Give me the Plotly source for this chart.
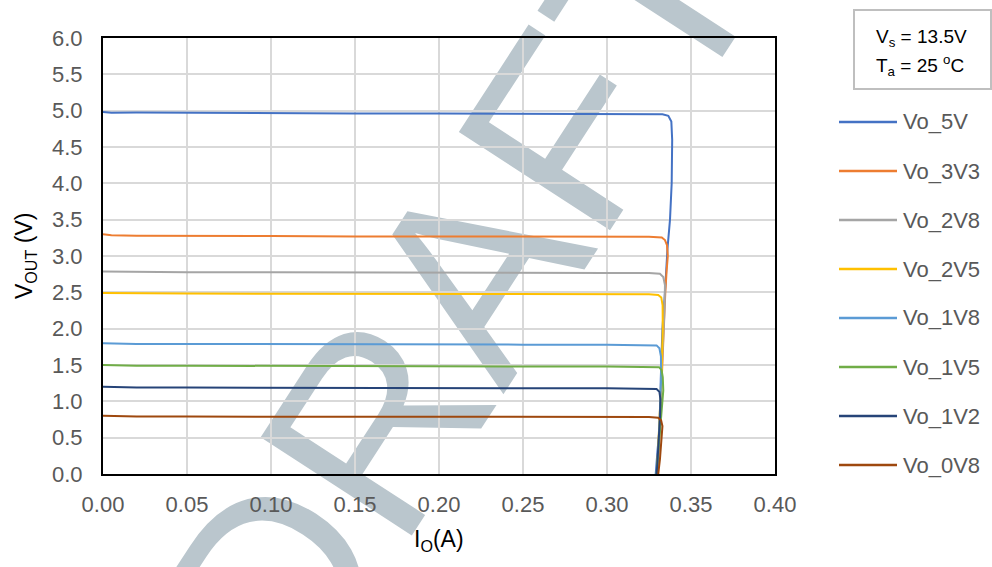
import plotly.graph_objects as go

# ---------------- data ----------------
names = ["Vo_5V", "Vo_3V3", "Vo_2V8", "Vo_2V5", "Vo_1V8", "Vo_1V5", "Vo_1V2", "Vo_0V8"]
colors = ["#4472C4", "#ED7D31", "#A5A5A5", "#FFC000", "#5B9BD5", "#70AD47", "#264478", "#9E480E"]

I_5V = [0, 0.005, 0.02, 0.05, 0.10, 0.15, 0.20, 0.25, 0.30, 0.325, 0.333, 0.3365, 0.3383, 0.3388, 0.3385,
        0.3375, 0.336, 0.3345, 0.333, 0.332, 0.3315, 0.330, 0.329]
V_5V = [4.98, 4.97, 4.975, 4.97, 4.965, 4.96, 4.96, 4.96, 4.955, 4.955, 4.95, 4.93, 4.85, 4.6, 4.0,
        3.5, 3.1, 2.5, 2.0, 1.3, 0.7, 0.3, 0.0]

I_3V3 = [0, 0.005, 0.02, 0.05, 0.10, 0.15, 0.20, 0.25, 0.30, 0.325, 0.3326, 0.3345, 0.3357, 0.3362,
         0.3355, 0.3347, 0.3331, 0.332, 0.331, 0.3302]
V_3V3 = [3.30, 3.285, 3.28, 3.275, 3.275, 3.27, 3.27, 3.27, 3.27, 3.265, 3.255, 3.22, 3.15, 3.0,
         2.8, 2.5, 1.6, 1.0, 0.5, 0.0]

I_2V8 = [0, 0.02, 0.05, 0.10, 0.15, 0.20, 0.25, 0.30, 0.325, 0.3315, 0.3335, 0.3345, 0.3343, 0.333,
         0.332, 0.331, 0.3298]
V_2V8 = [2.785, 2.78, 2.775, 2.775, 2.77, 2.77, 2.77, 2.765, 2.765, 2.755, 2.71, 2.6, 2.3, 1.6,
         1.0, 0.5, 0.0]

I_2V5 = [0, 0.02, 0.05, 0.10, 0.15, 0.20, 0.25, 0.30, 0.325, 0.3305, 0.3323, 0.3331, 0.3332, 0.3325,
         0.3315, 0.3305, 0.3298]
V_2V5 = [2.49, 2.485, 2.485, 2.48, 2.48, 2.48, 2.48, 2.475, 2.475, 2.465, 2.43, 2.32, 2.0, 1.4,
         0.8, 0.3, 0.0]

I_1V8 = [0, 0.02, 0.05, 0.10, 0.15, 0.20, 0.25, 0.30, 0.322, 0.3295, 0.3312, 0.3321, 0.3322, 0.3315,
         0.3308, 0.3298]
V_1V8 = [1.80, 1.79, 1.79, 1.785, 1.785, 1.785, 1.78, 1.78, 1.78, 1.77, 1.73, 1.62, 1.3, 0.8,
         0.4, 0.0]

I_1V5 = [0, 0.02, 0.05, 0.10, 0.15, 0.20, 0.25, 0.30, 0.325, 0.331, 0.3325, 0.3332, 0.3335, 0.3325,
         0.3315, 0.3305, 0.3295]
V_1V5 = [1.50, 1.49, 1.49, 1.485, 1.485, 1.485, 1.48, 1.48, 1.48, 1.47, 1.43, 1.33, 1.15, 0.9,
         0.6, 0.3, 0.0]

I_1V2 = [0, 0.02, 0.05, 0.10, 0.15, 0.20, 0.25, 0.30, 0.322, 0.3295, 0.3312, 0.3318, 0.3316, 0.331,
         0.3302, 0.3296]
V_1V2 = [1.20, 1.19, 1.19, 1.185, 1.185, 1.185, 1.18, 1.18, 1.18, 1.17, 1.13, 1.03, 0.8, 0.5,
         0.2, 0.0]

I_0V8 = [0, 0.02, 0.05, 0.10, 0.15, 0.20, 0.25, 0.30, 0.325, 0.3304, 0.3322, 0.333, 0.3325, 0.3315,
         0.3305]
V_0V8 = [0.80, 0.79, 0.79, 0.79, 0.785, 0.785, 0.785, 0.785, 0.785, 0.775, 0.74, 0.66, 0.45, 0.2,
         0.0]

currents = [I_5V, I_3V3, I_2V8, I_2V5, I_1V8, I_1V5, I_1V2, I_0V8]
voltages = [V_5V, V_3V3, V_2V8, V_2V5, V_1V8, V_1V5, V_1V2, V_0V8]

x_ticks = [0, 0.05, 0.10, 0.15, 0.20, 0.25, 0.30, 0.35, 0.40]
y_ticks = [0, 0.5, 1.0, 1.5, 2.0, 2.5, 3.0, 3.5, 4.0, 4.5, 5.0, 5.5, 6.0]

FONT = "Liberation Sans, Arial, sans-serif"
W, H = 992, 567
ML, MR, MT, MB = 103, 217, 38, 93
PW, PH = W - ML - MR, H - MT - MB


def px2paper_x(px):
    return (px - ML) / PW


def px2paper_y(py):
    return (H - MB - py) / PH


fig = go.Figure()
for n, c, xs, ys in zip(names, colors, currents, voltages):
    fig.add_trace(go.Scatter(x=xs, y=ys, mode="lines", name=n,
                             line=dict(color=c, width=2), showlegend=False))

shapes = []
annotations = []

# Watermark "DRAFT" (between gridlines and traces)
shapes.append(dict(type="rect", xref="paper", yref="paper",
                   x0=px2paper_x(434), x1=px2paper_x(442), y0=px2paper_y(287), y1=px2paper_y(279),
                   line=dict(width=0), fillcolor="rgba(0,0,0,0)", layer="between",
                   label=dict(text="DRAFT", textangle=-57, textposition="middle center",
                              font=dict(size=262, color="#bac6cd", family=FONT))))

# Manual legend
for i, (n, c) in enumerate(zip(names, colors)):
    yy = px2paper_y(122 + 49 * i)
    shapes.append(dict(type="line", xref="paper", yref="paper",
                       x0=px2paper_x(839), x1=px2paper_x(897), y0=yy, y1=yy,
                       line=dict(color=c, width=2.5)))
    annotations.append(dict(text=n, xref="paper", yref="paper", x=px2paper_x(901), y=yy,
                            xanchor="left", yanchor="middle", showarrow=False,
                            font=dict(size=22, color="#595959", family=FONT)))

# Condition box
shapes.append(dict(type="rect", xref="paper", yref="paper",
                   x0=px2paper_x(854), x1=px2paper_x(991), y0=px2paper_y(89), y1=px2paper_y(10),
                   line=dict(color="#bfbfbf", width=2), fillcolor="white"))
annotations.append(dict(text="V<sub>s</sub> = 13.5V", xref="paper", yref="paper",
                        x=px2paper_x(874), y=px2paper_y(38), xanchor="left", yanchor="middle",
                        showarrow=False, font=dict(size=19, color="#000000", family=FONT)))
annotations.append(dict(text="T<sub>a</sub> = 25 <sup>o</sup>C", xref="paper", yref="paper",
                        x=px2paper_x(874), y=px2paper_y(66), xanchor="left", yanchor="middle",
                        showarrow=False, font=dict(size=19, color="#000000", family=FONT)))

# Axis titles
annotations.append(dict(text="V<sub>OUT</sub> (V)", xref="paper", yref="paper",
                        x=px2paper_x(25), y=0.5, textangle=-90, xanchor="center", yanchor="middle",
                        showarrow=False, font=dict(size=23, color="#000000", family=FONT)))
annotations.append(dict(text="I<sub>O</sub>(A)", xref="paper", yref="paper",
                        x=0.5, y=px2paper_y(540), xanchor="center", yanchor="middle",
                        showarrow=False, font=dict(size=23, color="#000000", family=FONT)))

axis_common = dict(showgrid=True, gridcolor="#d9d9d9", gridwidth=2, zeroline=False,
                   showline=True, linecolor="#000000", linewidth=2, mirror=True, ticks="",
                   tickfont=dict(size=22, color="#595959", family=FONT))

fig.update_layout(
    width=W, height=H,
    margin=dict(l=ML, r=MR, t=MT, b=MB),
    paper_bgcolor="white", plot_bgcolor="white",
    xaxis=dict(range=[0, 0.4], tickvals=x_ticks, tickformat=".2f", ticklabelstandoff=10, **axis_common),
    yaxis=dict(range=[0, 6], tickvals=y_ticks, tickformat=".1f", ticklabelstandoff=14, **axis_common),
    shapes=shapes, annotations=annotations, showlegend=False,
)

fig.write_html("out.html")
